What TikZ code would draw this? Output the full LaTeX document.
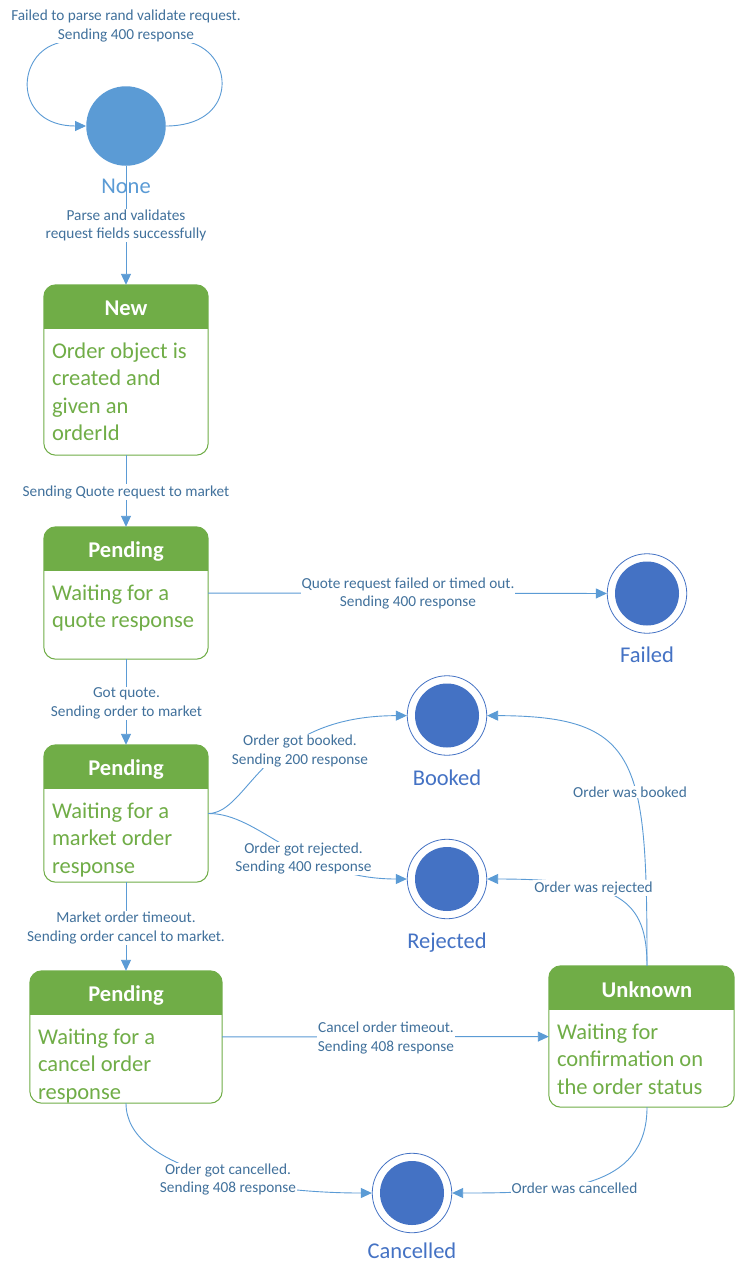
\documentclass[tikz,border=0pt]{standalone}
\usepackage{fontspec}
\setmainfont{Carlito}
\usetikzlibrary{arrows.meta}
\definecolor{lineblue}{HTML}{5B9BD5}
\definecolor{lblblue}{HTML}{41719C}
\definecolor{stblue}{HTML}{4472C4}
\definecolor{stgreen}{HTML}{70AD47}
\tikzset{
  conn/.style={draw=lineblue, line width=0.9pt, -{Triangle[length=11pt,width=10pt]}},
  lbl/.style={fill=white, text=lblblue, font=\fontsize{15.3}{18.5}\selectfont, align=center, inner sep=1pt},
  initst/.style={circle, fill=lineblue, minimum size=79.5pt, inner sep=0pt},
  finalst/.style={circle, draw=stblue, line width=0.8pt, fill=white, minimum size=79.5pt, inner sep=0pt,
    path picture={\fill[stblue] (path picture bounding box.center) circle[radius=32pt];}},
  stname/.style={anchor=base, font=\fontsize{22.5}{27}\selectfont},
  stbox/.style={rectangle, inner sep=0pt},
  hdrtxt/.style={anchor=base, text=white, font=\fontsize{22.5}{27}\selectfont\bfseries},
  bodytxt/.style={anchor=north west, inner sep=0pt, align=left, text=stgreen, font=\fontsize{22.5}{27.3}\selectfont},
}
\newcommand\hdrbox[1]{%
  \begin{scope}
    \clip[rounded corners=12pt] (#1.north west) rectangle (#1.south east);
    \fill[stgreen] (#1.north west) rectangle ([yshift=-44pt]#1.north east);
  \end{scope}
  \draw[stgreen, line width=1pt, rounded corners=12pt] (#1.north west) rectangle (#1.south east);
}
\begin{document}
\begin{tikzpicture}[x=1pt,y=-1pt]
\useasboundingbox[fill=white] (0,0) rectangle (735,1263);

% states
\node[initst] (none) at (126,126) {};
\node[stname, text=lineblue] (nonel) at (126,193) {None};

\node[stbox, minimum width=164pt, minimum height=170pt] (new) at (126,370) {};
\hdrbox{new}
\node[hdrtxt] (newh) at ([yshift=-31pt]new.north) {New};
\node[bodytxt] (newb) at ([xshift=8pt,yshift=-54.5pt]new.north west) {\strut Order object is\\created and\\given an\\orderId};

\node[stbox, minimum width=164pt, minimum height=132pt] (p1) at (126,593) {};
\hdrbox{p1}
\node[hdrtxt] (p1h) at ([yshift=-31pt]p1.north) {Pending};
\node[bodytxt] (p1b) at ([xshift=8pt,yshift=-54.5pt]p1.north west) {\strut Waiting for a\\quote response};

\node[stbox, minimum width=164pt, minimum height=137pt] (p2) at (126,813.5) {};
\hdrbox{p2}
\node[hdrtxt] (p2h) at ([yshift=-31pt]p2.north) {Pending};
\node[bodytxt] (p2b) at ([xshift=8pt,yshift=-54.5pt]p2.north west) {\strut Waiting for a\\market order\\response};

\node[stbox, minimum width=192pt, minimum height=132pt] (p3) at (126,1037) {};
\hdrbox{p3}
\node[hdrtxt] (p3h) at ([yshift=-31pt]p3.north) {Pending};
\node[bodytxt] (p3b) at ([xshift=8pt,yshift=-54.5pt]p3.north west) {\strut Waiting for a\\cancel order\\response};

\node[stbox, minimum width=185pt, minimum height=141pt] (unk) at (641.5,1036.5) {};
\hdrbox{unk}
\node[hdrtxt] (unkh) at (647,997) {Unknown};
\node[bodytxt] (unkb) at ([xshift=8pt,yshift=-54.5pt]unk.north west) {\strut Waiting for\\confirmation on\\the order status};

\node[finalst] (failed) at (647,593.5) {};
\node[stname, text=stblue] (failedl) at (647,662.5) {Failed};
\node[finalst] (booked) at (447,715.5) {};
\node[stname, text=stblue] (bookedl) at (447,785) {Booked};
\node[finalst] (rejected) at (447,879) {};
\node[stname, text=stblue] (rejectedl) at (447,948) {Rejected};
\node[finalst] (cancelled) at (412,1193) {};
\node[stname, text=stblue] (cancelledl) at (412,1258) {Cancelled};

% connectors
\coordinate (lr) at (195,44);
\coordinate (ll) at (55,44);
\draw[conn] (none.east) .. controls (235,126) and (235,60) .. (lr)
  .. controls (150,28) and (100,28) .. (ll)
  .. controls (15,58) and (15,126) .. (none.west);
\draw[conn] (none) -- (new);
\draw[conn] (new) -- (p1);
\draw[conn] (p1) -- (failed);
\draw[conn] (p1) -- (p2);
\draw[conn] (p2.east) .. controls (250,813) and (260,716) .. (booked);
\draw[conn] (p2.east) .. controls (260,813) and (300,879) .. (rejected);
\draw[conn] (p2) -- (p3);
\draw[conn] (p3) -- (unk);
\draw[conn] (p3.south) .. controls (126,1170) and (260,1193) .. (cancelled);
\draw[conn] ([xshift=5.5pt]unk.north) .. controls (647,760) and (640,716) .. (booked);
\draw[conn] ([xshift=5.5pt]unk.north) .. controls (647,900) and (620,879) .. (rejected);
\draw[conn] ([xshift=5.5pt]unk.south) .. controls (647,1190) and (560,1193) .. (cancelled);

% labels
\node[lbl] (l1) at (126,26) {Failed to parse rand validate request.\\Sending 400 response};
\node[lbl] (l2) at (126,225.5) {Parse and validates\\request fields successfully};
\node[lbl] (l3) at (126,492) {Sending Quote request to market};
\node[lbl] (l4) at (408,593.5) {Quote request failed or timed out.\\Sending 400 response};
\node[lbl] (l5) at (126.5,703.5) {Got quote.\\Sending order to market};
\node[lbl] (l6) at (300,751) {Order got booked.\\Sending 200 response};
\node[lbl] (l7) at (303.5,858.5) {Order got rejected.\\Sending 400 response};
\node[lbl] (l8) at (126,928) {Market order timeout.\\Sending order cancel to market.};
\node[lbl] (l9) at (386,1038) {Cancel order timeout.\\Sending 408 response};
\node[lbl] (l10) at (228,1179.5) {Order got cancelled.\\Sending 408 response};
\node[lbl] (l11) at (574.5,1188) {Order was cancelled};
\node[lbl] (l12) at (630,792) {Order was booked};
\node[lbl] (l13) at (593.5,888) {Order was rejected};
\end{tikzpicture}
\end{document}
